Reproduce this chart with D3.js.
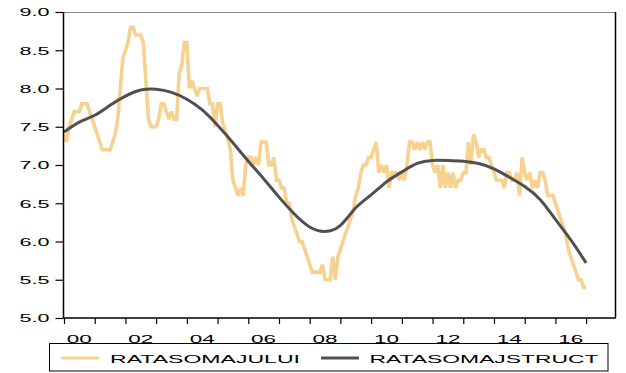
<!DOCTYPE html>
<html>
<head>
<meta charset="utf-8">
<script src="https://cdn.jsdelivr.net/npm/d3@7"></script>
<style>
  html, body { margin: 0; padding: 0; background: #fff; }
  svg { display: block; }
  text { font-family: "Liberation Sans", Arial, sans-serif; fill: #000; }
</style>
</head>
<body>
<svg id="chart" width="626" height="373"></svg>
<script>
// ---- data (monthly, 2000m1 .. 2017m1) ----
const startYear = 2000;
const ratasomajului = [
  // 2000
  7.4, 7.3, 7.5, 7.6, 7.7, 7.7, 7.7, 7.8, 7.8, 7.8, 7.7, 7.6,
  // 2001
  7.5, 7.4, 7.3, 7.2, 7.2, 7.2, 7.2, 7.3, 7.4, 7.6, 8.0, 8.4,
  // 2002
  8.5, 8.6, 8.8, 8.8, 8.7, 8.7, 8.7, 8.6, 8.1, 7.6, 7.5, 7.5,
  // 2003
  7.5, 7.6, 7.8, 7.8, 7.7, 7.6, 7.7, 7.6, 7.6, 8.2, 8.3, 8.6,
  // 2004
  8.6, 8.0, 8.1, 8.0, 7.9, 8.0, 8.0, 8.0, 8.0, 7.8, 7.8, 7.5,
  // 2005
  7.8, 7.8, 7.55, 7.45, 7.35, 7.2, 6.8, 6.7, 6.6, 6.7, 6.6, 7.0,
  // 2006
  7.1, 7.1, 7.0, 7.1, 7.0, 7.3, 7.3, 7.3, 7.0, 7.0, 7.1, 6.8,
  // 2007
  6.8, 6.7, 6.7, 6.5, 6.5, 6.3, 6.2, 6.1, 6.0, 6.0, 5.9, 5.8,
  // 2008
  5.7, 5.6, 5.6, 5.6, 5.6, 5.7, 5.5, 5.5, 5.5, 5.8, 5.5, 5.8,
  // 2009
  5.9, 6.0, 6.1, 6.2, 6.3, 6.4, 6.6, 6.7, 6.9, 7.0, 7.0, 7.1,
  // 2010
  7.1, 7.2, 7.3, 6.9, 7.0, 6.9, 7.0, 6.7, 6.9, 6.9, 6.9, 6.8,
  // 2011
  6.9, 6.8, 7.0, 7.3, 7.3, 7.2, 7.3, 7.2, 7.3, 7.2, 7.3, 7.3,
  // 2012
  7.0, 6.9, 7.0, 6.7, 7.0, 6.7, 6.9, 6.7, 6.9, 6.7, 6.8, 6.8,
  // 2013
  6.9, 6.9, 7.3, 7.0, 7.4, 7.3, 7.1, 7.2, 7.2, 7.1, 7.1, 7.0,
  // 2014
  6.9, 6.8, 6.8, 6.8, 6.7, 6.9, 6.9, 6.8, 6.8, 6.9, 6.6, 7.1,
  // 2015
  6.9, 6.8, 6.9, 6.7, 6.8, 6.7, 6.9, 6.9, 6.8, 6.6, 6.6, 6.6,
  // 2016
  6.5, 6.4, 6.3, 6.2, 6.1, 5.9, 5.8, 5.7, 5.6, 5.5, 5.5, 5.4,
  // 2017
  5.4
];

// structural rate, read at January and July of each year (2000 .. 2017m1)
const ratasomajstruct = [
  7.43, 7.56, 7.65, 7.78, 7.90, 7.98, 7.99, 7.95, 7.86, 7.72,
  7.52, 7.29, 7.05, 6.82, 6.58, 6.36, 6.19, 6.13, 6.21, 6.44,
  6.61, 6.78, 6.91, 7.02, 7.06, 7.06, 7.05, 7.02, 6.95, 6.84,
  6.72, 6.55, 6.29, 6.02, 5.72
];

const yTicks = [5.0, 5.5, 6.0, 6.5, 7.0, 7.5, 8.0, 8.5, 9.0];
const yearTicks = d3.range(2000, 2018);          // tick marks at year boundaries
const yearLabels = ["00","02","04","06","08","10","12","14","16"];
const seriesNames = ["RATASOMAJULUI", "RATASOMAJSTRUCT"];
const colors = ["#F6D18F", "#505050"];

// ---- layout ----
const L = 63.5, R = 615, T = 12, B = 318;
const svg = d3.select("#chart");

const x = d3.scaleLinear().domain([2000, 2017.94]).range([64, R]);
const y = d3.scaleLinear().domain([5, 9]).range([B, T]);

// frame: top (grey), right (black)
svg.append("line").attr("x1", L).attr("x2", R).attr("y1", T + 0.5).attr("y2", T + 0.5)
  .attr("stroke", "#8a8a8a").attr("stroke-width", 1);
svg.append("line").attr("x1", R + 0.5).attr("x2", R + 0.5).attr("y1", T).attr("y2", B)
  .attr("stroke", "#000").attr("stroke-width", 1.5);

// series
const yellowData = ratasomajului.map((v, i) => ({ t: startYear + i / 12, v }));
const darkData = ratasomajstruct.map((v, i) => ({ t: startYear + i / 2, v }));

svg.append("path").datum(yellowData)
  .attr("fill", "none").attr("stroke", colors[0]).attr("stroke-width", 3.6)
  .attr("stroke-linejoin", "miter").attr("stroke-miterlimit", 2)
  .attr("d", d3.line().x(d => x(d.t)).y(d => y(d.v)));

svg.append("path").datum(darkData)
  .attr("fill", "none").attr("stroke", colors[1]).attr("stroke-width", 3)
  .attr("stroke-linecap", "butt")
  .attr("d", d3.line().curve(d3.curveNatural).x(d => x(d.t)).y(d => y(d.v)));

// y axis
const yAxis = svg.append("g").attr("transform", `translate(${L},0)`)
  .call(d3.axisLeft(y).tickValues(yTicks).tickSize(8).tickFormat(d3.format(".1f")));
yAxis.select(".domain").attr("stroke", "#000").attr("stroke-width", 1.5)
  .attr("d", `M0,${T}V${B}`);
yAxis.selectAll(".tick line").attr("stroke", "#000").attr("stroke-width", 1.2);
yAxis.selectAll(".tick text")
  .attr("x", -14).attr("dy", "0.36em")
  .attr("font-size", 11).attr("font-family", "Liberation Sans, Arial, sans-serif")
  .attr("fill", "#000")
  .attr("textLength", 30).attr("lengthAdjust", "spacingAndGlyphs");

// x axis
const xAxis = svg.append("g").attr("transform", `translate(0,${B})`)
  .call(d3.axisBottom(x).tickValues(yearTicks).tickSize(6).tickFormat(""));
xAxis.select(".domain").attr("stroke", "#000").attr("stroke-width", 1.5)
  .attr("d", `M${L},0H${R + 1}`);
xAxis.selectAll(".tick line").attr("stroke", "#000").attr("stroke-width", 1.2);

svg.append("g").selectAll("text").data(yearLabels).join("text")
  .attr("x", (d, i) => x(2000 + 2 * i + 0.5))
  .attr("y", 342.5)
  .attr("text-anchor", "middle")
  .attr("font-size", 11.5)
  .attr("textLength", 25).attr("lengthAdjust", "spacingAndGlyphs")
  .text(d => d);

// legend
const lg = svg.append("g");
lg.append("rect").attr("x", 49.5).attr("y", 343.5).attr("width", 558.5).attr("height", 27.5)
  .attr("fill", "#fff").attr("stroke", "#000").attr("stroke-width", 1);
const legendItems = [
  { name: seriesNames[0], color: colors[0], x1: 61, x2: 99, tx: 110, tw: 190 },
  { name: seriesNames[1], color: colors[1], x1: 321, x2: 359, tx: 369.5, tw: 229 }
];
legendItems.forEach(d => {
  lg.append("line").attr("x1", d.x1).attr("x2", d.x2).attr("y1", 358).attr("y2", 358)
    .attr("stroke", d.color).attr("stroke-width", 3);
  lg.append("text").attr("x", d.tx).attr("y", 362.5)
    .attr("font-size", 11.5)
    .attr("textLength", d.tw).attr("lengthAdjust", "spacingAndGlyphs")
    .text(d.name);
});
</script>
</body>
</html>
